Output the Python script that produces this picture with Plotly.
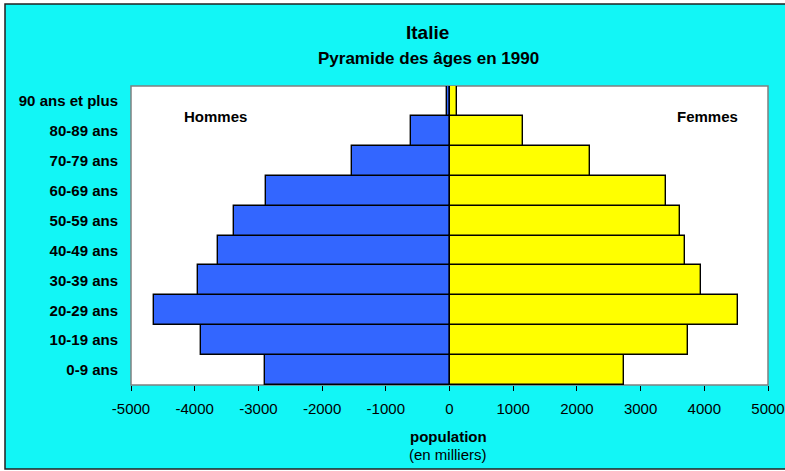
import plotly.graph_objects as go

ages = ["0-9 ans", "10-19 ans", "20-29 ans", "30-39 ans", "40-49 ans",
        "50-59 ans", "60-69 ans", "70-79 ans", "80-89 ans", "90 ans et plus"]
hommes = [-2900, -3905, -4640, -3945, -3640, -3390, -2880, -1535, -605, -45]
femmes = [2745, 3745, 4530, 3950, 3700, 3615, 3395, 2210, 1160, 125]
x_ticks = [-5000, -4000, -3000, -2000, -1000, 0, 1000, 2000, 3000, 4000, 5000]
x_labels = [str(v) for v in x_ticks]

FONT = "Liberation Sans, Arial, sans-serif"
CYAN = "#12F6F6"

fig = go.Figure()
fig.add_trace(go.Bar(y=ages, x=hommes, orientation="h", name="Hommes",
                     marker=dict(color="#3366FF", line=dict(color="black", width=1.4))))
fig.add_trace(go.Bar(y=ages, x=femmes, orientation="h", name="Femmes",
                     marker=dict(color="#FFFF00", line=dict(color="black", width=1.4))))

L, R, T, B = 131, 17, 86, 86
W, H = 785, 471
pw, ph = W - L - R, H - T - B

def px(xp):
    return (xp - L) / pw

def py(yp):
    return (H - B - yp) / ph

def label(text, x, y, size):
    return dict(text=text, xref="paper", yref="paper", x=px(x), y=py(y),
                xanchor="center", yanchor="middle", showarrow=False,
                font=dict(size=size, family=FONT, color="black"))

fig.update_layout(
    width=W, height=H,
    margin=dict(l=L, r=R, t=T, b=B, autoexpand=False),
    barmode="relative", bargap=0,
    showlegend=False,
    paper_bgcolor="white",
    plot_bgcolor="white",
    font=dict(family=FONT, color="black", size=12),
    xaxis=dict(range=[-5000, 5000], tickvals=x_ticks, ticktext=x_labels,
               ticks="outside", ticklen=5, tickcolor="black", automargin=False,
               showgrid=False, zeroline=False, showline=False,
               tickfont=dict(size=15, family=FONT), ticklabelstandoff=5),
    yaxis=dict(categoryorder="array", categoryarray=ages, automargin=False,
               tickvals=ages, ticktext=["<b>%s</b>" % a for a in ages],
               ticks="", showgrid=False, zeroline=False, showline=False,
               tickfont=dict(size=15, family=FONT), ticklabelstandoff=12),
    shapes=[
        dict(type="rect", xref="paper", yref="paper", layer="below",
             x0=px(5), x1=px(790), y0=py(469), y1=py(4),
             fillcolor=CYAN, line=dict(color="#222222", width=1.5)),
        dict(type="rect", xref="paper", yref="paper", layer="below",
             x0=0, x1=1, y0=0, y1=1, fillcolor="white",
             line=dict(color="#808080", width=1.5)),
    ],
    annotations=[
        label("<b>Italie</b>", 427, 33, 19),
        label("<b>Pyramide des âges en 1990</b>", 428, 58, 17),
        label("<b>Hommes</b>", 215, 116, 15),
        label("<b>Femmes</b>", 707, 116, 15),
        label("<b>population</b>", 448, 436, 15),
        label("(en milliers)", 448, 454, 15),
    ],
)

fig.write_html("out.html", config={"displayModeBar": False},
               post_script="document.body.style.margin='0';")
